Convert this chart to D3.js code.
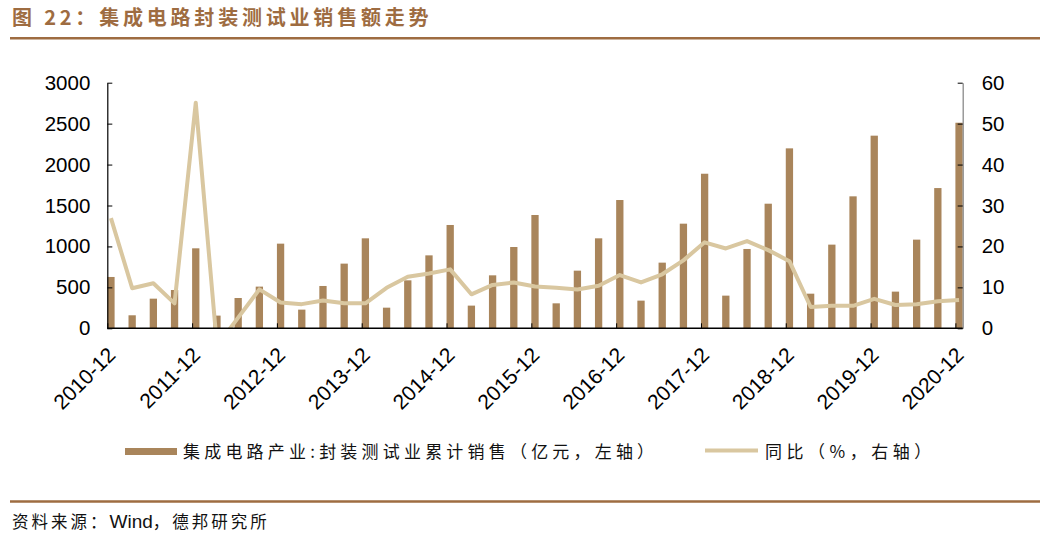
<!DOCTYPE html>
<html>
<head>
<meta charset="utf-8">
<script src="https://cdn.jsdelivr.net/npm/d3@7"></script>
<style>
  body { margin: 0; background: #fff; }
  svg { display: block; }
  .tick text { font-family: "Liberation Sans", Arial, sans-serif; font-size: 20.5px; fill: #000; }
</style>
</head>
<body>
<div id="wrapper"></div>
<script>
// 1. Data

const quarters = [
  "2010-12",
  "2011-03", "2011-06", "2011-09", "2011-12",
  "2012-03", "2012-06", "2012-09", "2012-12",
  "2013-03", "2013-06", "2013-09", "2013-12",
  "2014-03", "2014-06", "2014-09", "2014-12",
  "2015-03", "2015-06", "2015-09", "2015-12",
  "2016-03", "2016-06", "2016-09", "2016-12",
  "2017-03", "2017-06", "2017-09", "2017-12",
  "2018-03", "2018-06", "2018-09", "2018-12",
  "2019-03", "2019-06", "2019-09", "2019-12",
  "2020-03", "2020-06", "2020-09", "2020-12",
];

// 封装测试业累计销售（亿元）
const sales = [
  627,
  159, 362, 468, 977,
  155, 370, 509, 1034,
  228, 517, 790, 1099,
  252, 586, 891, 1262,
  277, 647, 993, 1384,
  305, 704, 1099, 1567,
  338, 802, 1278, 1888,
  399, 969, 1522, 2198,
  423, 1022, 1612, 2353,
  448, 1083, 1713, 2511,
];

// 同比（%）
const yoy = [
  26.9,
  9.8, 11.0, 6.1, 55.1,
  -4.3, 2.6, 9.5, 6.3,
  5.9, 6.8, 6.1, 6.1,
  9.9, 12.6, 13.4, 14.4,
  8.3, 10.6, 11.2, 10.2,
  9.9, 9.5, 10.4, 13.0,
  11.2, 13.2, 16.6, 21.0,
  19.5, 21.3, 19.1, 16.4,
  5.2, 5.5, 5.5, 7.2,
  5.7, 5.9, 6.6, 6.9,
];

const tickLabels = [
  "2010-12", "2011-12", "2012-12", "2013-12", "2014-12", "2015-12",
  "2016-12", "2017-12", "2018-12", "2019-12", "2020-12",
];
const leftTicks = [0, 500, 1000, 1500, 2000, 2500, 3000];
const rightTicks = [0, 10, 20, 30, 40, 50, 60];

const barColor = "#a9855b";
const lineColor = "#d9c7a0";
const brown = "#9e6c41";

// 2. Dimensions

const dimensions = {
  width: 1050,
  height: 538,
  left: 107.3,
  right: 962.7,
  top: 82.7,
  bottom: 328.3,
  barWidth: 7.3,
};

// 3. Canvas

const svg = d3.select("#wrapper")
  .append("svg")
    .attr("width", dimensions.width)
    .attr("height", dimensions.height);

// title + rules
svg.append("text")
    .attr("x", 12)
    .attr("y", 25)
    .attr("fill", brown)
    .style("font-family", "'Noto Sans CJK SC', sans-serif")
    .style("font-weight", "bold")
    .style("font-size", "20px")
    .style("letter-spacing", "3.8px")
    .text("图 22：集成电路封装测试业销售额走势");

svg.append("line")
    .attr("x1", 10).attr("x2", 1040)
    .attr("y1", 38.3).attr("y2", 38.3)
    .attr("stroke", brown)
    .attr("stroke-width", 2.5);

svg.append("line")
    .attr("x1", 10).attr("x2", 1040)
    .attr("y1", 501.5).attr("y2", 501.5)
    .attr("stroke", brown)
    .attr("stroke-width", 2.5);

const footer = svg.append("text")
    .attr("x", 12)
    .attr("y", 528)
    .attr("fill", "#111")
    .style("font-family", "'Noto Sans CJK SC', sans-serif")
    .style("font-size", "16.5px")
    .style("letter-spacing", "3px");
footer.append("tspan").text("资料来源：");
footer.append("tspan")
    .style("font-family", "'Liberation Sans', Arial, sans-serif")
    .style("font-size", "19px")
    .style("letter-spacing", "0px")
    .text("Wind");
footer.append("tspan").text("，德邦研究所");

// 4. Scales

const xScale = d3.scaleLinear()
    .domain([0, quarters.length - 1])
    .range([dimensions.left, dimensions.right - dimensions.barWidth]);

const yLeft = d3.scaleLinear()
    .domain([0, 3000])
    .range([dimensions.bottom, dimensions.top]);

const yRight = d3.scaleLinear()
    .domain([0, 60])
    .range([dimensions.bottom, dimensions.top]);

// 5. Draw data

svg.append("g")
  .selectAll("rect")
  .data(sales)
  .join("rect")
    .attr("x", (d, i) => xScale(i))
    .attr("y", d => yLeft(d))
    .attr("width", dimensions.barWidth)
    .attr("height", d => yLeft(0) - yLeft(d))
    .attr("fill", barColor);

svg.append("clipPath")
    .attr("id", "plot-clip")
  .append("rect")
    .attr("x", dimensions.left)
    .attr("y", dimensions.top - 10)
    .attr("width", dimensions.right - dimensions.left)
    .attr("height", dimensions.bottom - dimensions.top + 10);

const lineGen = d3.line()
    .x((d, i) => xScale(i) + dimensions.barWidth / 2)
    .y(d => yRight(d));

svg.append("path")
    .datum(yoy)
    .attr("clip-path", "url(#plot-clip)")
    .attr("d", lineGen)
    .attr("fill", "none")
    .attr("stroke", lineColor)
    .attr("stroke-width", 4)
    .attr("stroke-linejoin", "round");

// 6. Peripherals

const leftAxis = svg.append("g")
    .attr("transform", `translate(${dimensions.left},0)`)
    .call(d3.axisLeft(yLeft)
      .tickValues(leftTicks)
      .tickFormat(d3.format("d"))
      .tickSize(-5)
      .tickSizeOuter(0)
      .tickPadding(17));
leftAxis.select(".domain").attr("stroke-width", 1.2);

const rightAxis = svg.append("g")
    .attr("transform", `translate(${dimensions.right},0)`)
    .call(d3.axisRight(yRight)
      .tickValues(rightTicks)
      .tickFormat(d3.format("d"))
      .tickSize(-5)
      .tickSizeOuter(0)
      .tickPadding(19));
rightAxis.select(".domain").attr("stroke", "#8a8a8a").attr("stroke-width", 1.3);

const tickIndex = tickLabels.map(l => quarters.indexOf(l));
const bottomAxis = svg.append("g")
    .attr("transform", `translate(0,${dimensions.bottom})`)
    .call(d3.axisBottom(xScale)
      .tickValues(tickIndex)
      .tickFormat(i => quarters[i])
      .tickSize(-5)
      .tickSizeOuter(0));
bottomAxis.select(".domain")
    .attr("d", `M${dimensions.left},0H${dimensions.right}`)
    .attr("stroke-width", 1.5);
bottomAxis.selectAll(".tick text")
    .attr("text-anchor", "end")
    .attr("dy", null)
    .attr("y", null)
    .style("font-size", "21px")
    .attr("transform", "translate(9,28) rotate(-45)");

svg.selectAll(".tick line").attr("stroke", "#000");

// legend
const legend = svg.append("g")
    .style("font-family", "'Noto Sans CJK SC', sans-serif")
    .style("font-size", "17px")
    .attr("fill", "#111");

legend.append("rect")
    .attr("x", 125).attr("y", 448)
    .attr("width", 52).attr("height", 7)
    .attr("fill", barColor);
legend.append("text")
    .attr("x", 183).attr("y", 458)
    .style("letter-spacing", "4.2px")
    .text("集成电路产业:封装测试业累计销售（亿元，左轴）");

legend.append("line")
    .attr("x1", 705).attr("x2", 758)
    .attr("y1", 450.5).attr("y2", 450.5)
    .attr("stroke", lineColor)
    .attr("stroke-width", 4);
legend.append("text")
    .attr("x", 765).attr("y", 458)
    .style("letter-spacing", "4.5px")
    .text("同比（%，右轴）");
</script>
</body>
</html>
